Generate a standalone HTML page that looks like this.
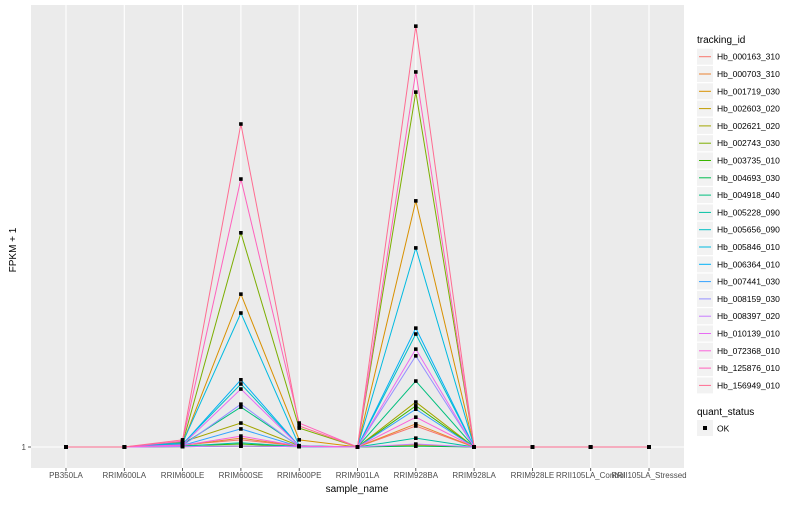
<!DOCTYPE html>
<html><head><meta charset="utf-8"><style>
body{margin:0;background:#fff;font-family:"Liberation Sans",sans-serif}
svg text{font-family:"Liberation Sans",sans-serif}
</style></head><body>
<svg id="chart" width="800" height="500" xmlns="http://www.w3.org/2000/svg">
<rect x="31" y="5" width="653" height="463" fill="#ebebeb"/>
<g id="grid"></g><g id="lines"></g><g id="pts"></g><g id="xt"></g>
<text x="26" y="450" font-size="8" fill="#4d4d4d" text-anchor="end">1</text>
<line x1="28" y1="447" x2="31" y2="447" stroke="#333" stroke-width="0.8"/>
<text x="357" y="492" font-size="10" fill="#000" text-anchor="middle">sample_name</text>
<text transform="translate(16,250) rotate(-90)" font-size="10" fill="#000" text-anchor="middle">FPKM + 1</text>
<g id="legend">
<text x="697" y="43" font-size="10">tracking_id</text>
<text x="697" y="415" font-size="10">quant_status</text>
<rect x="697" y="420" width="16" height="16" fill="#f2f2f2"/>
<rect x="703" y="426" width="4" height="4" fill="#000"/>
<text x="717" y="431.5" font-size="8.5">OK</text>
</g>
</svg>
<script>
const categories=["PB350LA","RRIM600LA","RRIM600LE","RRIM600SE","RRIM600PE","RRIM901LA","RRIM928BA","RRIM928LA","RRIM928LE","RRII105LA_Control","RRII105LA_Stressed"];
const ids=["Hb_000163_310","Hb_000703_310","Hb_001719_030","Hb_002603_020","Hb_002621_020","Hb_002743_030","Hb_003735_010","Hb_004693_030","Hb_004918_040","Hb_005228_090","Hb_005656_090","Hb_005846_010","Hb_006364_010","Hb_007441_030","Hb_008159_030","Hb_008397_020","Hb_010139_010","Hb_072368_010","Hb_125876_010","Hb_156949_010"];
const colors=["#F8766D","#EA8331","#D89000","#C09B00","#A3A500","#7CAE00","#39B600","#00BB4E","#00BF7D","#00C1A3","#00BFC4","#00BAE0","#00B0F6","#35A2FF","#9590FF","#C77CFF","#E76BF3","#FA62DB","#FF62BC","#FF6C91"];
const valsLE=[1.5,1.4,1.8,1.1,2.2,1.9,1.3,1.1,1.6,1.2,1.7,2.0,1.6,1.4,1.3,1.1,1.5,1.4,2.4,2.7];
const valsSE=[2.7,3.1,37.4,1.2,6.7,52.0,1.7,1.2,10.5,2.0,16.0,32.9,17.0,5.3,11.2,1.2,14.8,3.6,64.8,77.9];
const valsPE=[1.2,1.2,2.7,1.1,1.3,5.5,1.1,1.1,1.2,1.1,1.2,1.3,1.2,1.1,1.1,1.1,1.2,1.2,6.7,6.0];
const valsBA=[6.0,6.5,59.6,1.5,11.7,85.5,10.8,1.2,16.7,3.1,27.9,48.4,29.3,10.0,22.7,1.7,24.3,8.1,90.3,101.2];
const NS="http://www.w3.org/2000/svg";
function xS(i){return 31+(i+0.6)*653/11.2;}
function yS(v){return 447-(v-1)*4.2;}
function mk(t,a,p){const e=document.createElementNS(NS,t);for(const k in a)e.setAttribute(k,a[k]);p.appendChild(e);return e;}
const grid=document.getElementById('grid'),L=document.getElementById('lines'),P=document.getElementById('pts'),XT=document.getElementById('xt'),LG=document.getElementById('legend');
mk('line',{x1:31,x2:684,y1:yS(1),y2:yS(1),stroke:'#fff','stroke-width':1.1},grid);
categories.forEach((c,i)=>{
  const g=mk('line',{x1:xS(i),x2:xS(i),y1:5,y2:468,stroke:'#fff','stroke-width':1.1},grid);
  
  
  mk('line',{x1:xS(i),x2:xS(i),y1:468,y2:471,stroke:'#333','stroke-width':0.8},XT);
  const t=mk('text',{x:xS(i),y:478,'font-size':8,fill:'#4d4d4d','text-anchor':'middle'},XT);
  t.textContent=c;
  
  
});
function seriesVals(s){const a=new Array(categories.length).fill(1);a[2]=valsLE[s];a[3]=valsSE[s];a[4]=valsPE[s];a[6]=valsBA[s];return a;}
ids.forEach((id,s)=>{
  const v=seriesVals(s);
  const pl=mk('polyline',{points:v.map((d,i)=>xS(i)+','+yS(d)).join(' '),fill:'none',stroke:colors[s],'stroke-width':1},L);
  
  
  v.forEach((d,i)=>{
    const r=mk('rect',{x:xS(i)-1.8,y:yS(d)-1.8,width:3.6,height:3.6,fill:'#000'},P);
    
    
  });
  const cy=56.7+s*17.3;
  mk('rect',{x:697,y:cy-8,width:16,height:16,fill:'#f2f2f2'},LG);
  const ll=mk('line',{x1:699,x2:711,y1:cy,y2:cy,stroke:colors[s],'stroke-width':1},LG);
  
  
  const t=mk('text',{x:717,y:cy+3,'font-size':8.5},LG);
  t.textContent=id;
  
  
});
</script>
</body></html>
